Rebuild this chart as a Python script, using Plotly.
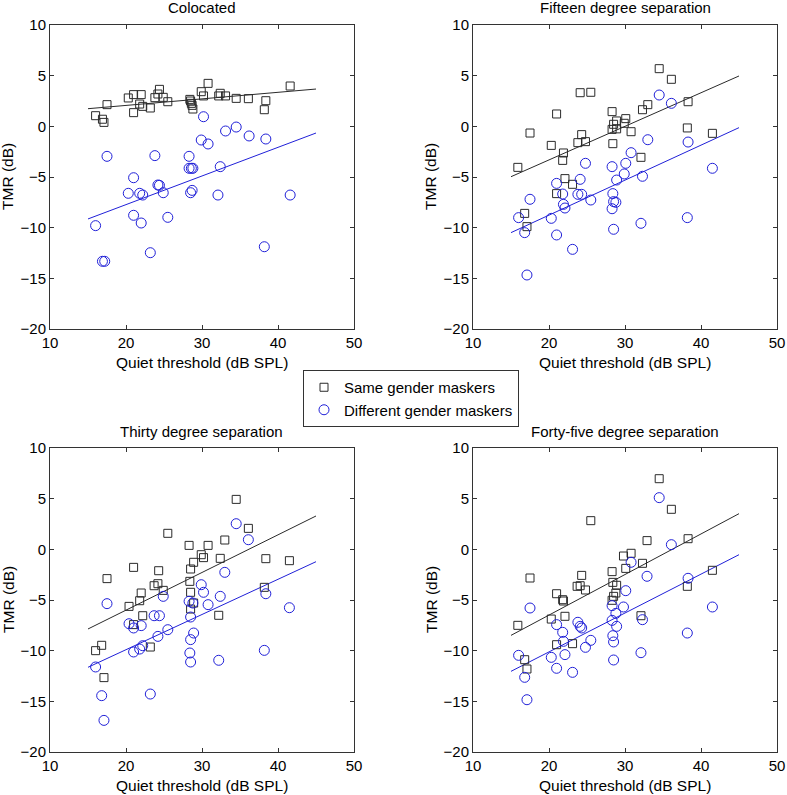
import plotly.graph_objects as go
from plotly.subplots import make_subplots

# quiet thresholds (dB SPL) and TMR (dB)
col_same_x = [16.0, 16.9, 17.1, 17.5, 20.3, 21.0, 21.0, 21.8, 22.0, 22.2, 23.2, 23.8, 24.2, 24.4, 24.9, 25.5,
              28.4, 28.5, 28.6, 28.7, 28.8, 29.9, 30.2, 30.8, 32.2, 32.4, 33.1, 34.5, 36.1, 38.2, 38.4, 41.6]
col_same_y = [1.05, 0.7, 0.39, 2.14, 2.8, 3.13, 1.35, 2.2, 3.13, 1.97, 1.81, 2.83, 3.19, 3.65, 2.86, 2.43,
              2.66, 2.5, 2.27, 2.07, 1.71, 3.42, 3.0, 4.24, 3.0, 3.26, 3.0, 2.76, 2.73, 1.64, 2.53, 3.98]
col_diff_x = [16.0, 16.9, 17.2, 17.5, 20.3, 21.0, 21.0, 21.8, 22.0, 22.2, 23.2, 23.8, 24.2, 24.4, 24.9, 25.5,
              28.3, 28.3, 28.5, 28.6, 28.7, 28.8, 29.9, 30.2, 30.8, 32.1, 32.4, 33.1, 34.5, 36.2, 38.2, 38.4, 41.6]
col_diff_y = [-9.8, -13.32, -13.32, -2.96, -6.61, -5.07, -8.78, -6.61, -9.54, -6.78, -12.47, -2.89, -5.79, -5.82,
              -6.55, -8.98, -2.96, -4.14, -6.55, -4.14, -6.32, -4.14, -1.35, 0.95, -1.74, -6.78, -3.98, -0.46,
              -0.07, -0.95, -11.88, -1.25, -6.78]

f15_same_x = [15.9, 16.8, 17.1, 17.5, 20.3, 21.0, 21.0, 21.8, 21.9, 22.1, 23.1, 23.8, 24.1, 24.3, 24.8, 25.5,
              28.3, 28.3, 28.4, 28.5, 28.9, 28.9, 29.9, 30.1, 30.8, 32.1, 32.3, 33.0, 34.5, 36.1, 38.2, 38.3, 41.5]
f15_same_y = [-4.05, -8.59, -9.9, -0.66, -1.88, 1.22, -6.64, -3.36, -2.63, -5.16, -5.72, -1.61, 3.32, -0.82,
              -1.51, 3.36, 1.45, -0.3, -1.71, 0.2, 0.53, -0.25, 0.3, 0.76, -0.53, -3.06, 1.64, 2.14, 5.69, 4.64,
              -0.16, 2.43, -0.69]
f15_diff_x = [16.0, 16.8, 17.1, 17.5, 20.3, 21.0, 21.0, 21.8, 21.9, 22.1, 23.1, 23.8, 24.1, 24.3, 24.8, 25.5,
              28.3, 28.3, 28.4, 28.5, 28.5, 28.8, 28.9, 29.9, 30.1, 30.8, 32.1, 32.3, 33.0, 34.5, 36.1, 38.2, 38.3,
              41.5]
f15_diff_y = [-9.01, -10.49, -14.67, -7.2, -9.08, -5.63, -10.72, -6.68, -7.7, -8.06, -12.14, -6.71, -5.23, -6.71,
              -3.65, -7.27, -3.98, -8.13, -6.64, -10.16, -7.43, -7.5, -5.3, -4.7, -3.65, -2.6, -9.57, -4.93, -1.32,
              3.09, 2.27, -9.01, -1.55, -4.14]

t30_same_x = [16.0, 16.8, 17.1, 17.5, 20.4, 21.0, 21.0, 21.8, 22.0, 22.2, 23.2, 23.7, 24.2, 24.3, 24.9, 25.5,
              28.3, 28.4, 28.5, 28.5, 28.5, 28.9, 28.9, 29.9, 30.2, 30.8, 32.2, 32.4, 33.0, 34.5, 36.1, 38.2, 38.4,
              41.5]
t30_same_y = [-10.0, -9.47, -12.66, -2.89, -5.63, -1.78, -7.43, -5.07, -4.31, -6.55, -9.64, -3.59, -3.39, -2.11,
              -4.05, 1.58, 0.39, -3.16, -1.94, -4.24, -5.89, -1.28, -5.3, -0.53, -0.82, 0.39, -6.51, -0.89, 0.92,
              4.93, 2.07, -3.75, -0.92, -1.12]
t30_diff_x = [16.0, 16.8, 17.1, 17.5, 20.4, 21.0, 21.0, 21.8, 22.0, 22.2, 23.2, 23.7, 24.2, 24.4, 24.9, 25.5,
              28.3, 28.4, 28.5, 28.5, 28.5, 28.8, 28.9, 29.9, 30.2, 30.8, 32.2, 32.4, 33.0, 34.5, 36.1, 38.2, 38.4,
              41.5]
t30_diff_y = [-11.61, -14.44, -16.88, -5.36, -7.34, -7.76, -10.13, -9.84, -7.53, -9.51, -14.28, -6.55, -8.59,
              -6.55, -4.64, -7.93, -5.13, -10.23, -8.91, -6.68, -11.12, -5.3, -8.26, -3.49, -4.24, -5.46, -10.95,
              -4.64, -2.27, 2.53, 0.95, -9.97, -4.38, -5.76]

f45_same_x = [15.9, 16.8, 17.1, 17.5, 20.3, 21.0, 21.0, 21.8, 21.9, 22.1, 23.1, 23.7, 24.1, 24.3, 24.8, 25.5,
              28.3, 28.3, 28.4, 28.5, 28.8, 28.9, 29.8, 30.1, 30.8, 32.1, 32.3, 32.9, 34.5, 36.1, 38.2, 38.3, 41.5]
f45_same_y = [-7.5, -10.89, -11.81, -2.83, -6.88, -4.38, -9.41, -4.97, -5.1, -6.61, -9.31, -3.65, -3.59, -2.57,
              -4.01, 2.83, -2.2, -5.03, -3.26, -4.64, -4.31, -3.55, -0.66, -1.88, -0.39, -6.55, -1.38, 0.86, 6.97,
              3.95, -3.65, 1.05, -2.07]
f45_diff_x = [16.0, 16.8, 17.1, 17.5, 20.3, 21.0, 21.0, 21.8, 21.9, 22.1, 23.1, 23.8, 24.1, 24.3, 24.8, 25.5,
              28.3, 28.3, 28.4, 28.5, 28.5, 28.8, 28.9, 29.8, 30.1, 30.8, 32.1, 32.3, 32.9, 34.5, 36.1, 38.2, 38.3,
              41.5]
f45_diff_y = [-10.46, -12.63, -14.84, -5.79, -10.66, -7.43, -11.74, -8.19, -9.08, -10.39, -12.14, -7.2, -7.6,
              -7.76, -9.67, -8.98, -5.56, -7.01, -8.52, -9.14, -10.92, -6.32, -7.6, -5.69, -4.08, -1.28, -10.2,
              -6.94, -2.66, 5.1, 0.46, -8.26, -2.86, -5.69]

# regression lines, end values at x = 15 and x = 45
fit_x = [15, 45]
col_fit_same = [1.74, 3.68]
col_fit_diff = [-9.14, -0.66]
f15_fit_same = [-4.97, 4.97]
f15_fit_diff = [-10.49, -0.13]
t30_fit_same = [-7.86, 3.29]
t30_fit_diff = [-11.64, -1.22]
f45_fit_same = [-8.49, 3.52]
f45_fit_diff = [-12.04, -0.53]

titles = ["Colocated", "Fifteen degree separation", "Thirty degree separation", "Forty-five degree separation"]
x_ticks = [10, 20, 30, 40, 50]
y_ticks = [-20, -15, -10, -5, 0, 5, 10]

panels = [
    (col_same_x, col_same_y, col_diff_x, col_diff_y, col_fit_same, col_fit_diff),
    (f15_same_x, f15_same_y, f15_diff_x, f15_diff_y, f15_fit_same, f15_fit_diff),
    (t30_same_x, t30_same_y, t30_diff_x, t30_diff_y, t30_fit_same, t30_fit_diff),
    (f45_same_x, f45_same_y, f45_diff_x, f45_diff_y, f45_fit_same, f45_fit_diff),
]

W, H = 787, 795
BLACK = "#2a2a2a"
BLUE = "#2020d8"
FONT = "Liberation Sans, Arial, sans-serif"

# pixel boxes of the plot areas (left, right, top, bottom)
boxes = [(50, 354, 25, 329), (473, 777, 25, 329), (50, 354, 448, 752), (473, 777, 448, 752)]

fig = make_subplots(rows=2, cols=2)

for i, (sx, sy, dx, dy, fs, fd) in enumerate(panels):
    r, c = i // 2 + 1, i % 2 + 1
    first = i == 0
    fig.add_trace(go.Scatter(x=fit_x, y=fs, mode="lines", line=dict(color=BLACK, width=1),
                             showlegend=False, hoverinfo="skip"), row=r, col=c)
    fig.add_trace(go.Scatter(x=fit_x, y=fd, mode="lines", line=dict(color=BLUE, width=1),
                             showlegend=False, hoverinfo="skip"), row=r, col=c)
    fig.add_trace(go.Scatter(x=sx, y=sy, mode="markers", name="Same gender maskers", showlegend=first,
                             marker=dict(symbol="square-open", size=8, color=BLACK, line=dict(width=1))),
                  row=r, col=c)
    fig.add_trace(go.Scatter(x=dx, y=dy, mode="markers", name="Different gender maskers", showlegend=first,
                             marker=dict(symbol="circle-open", size=10, color=BLUE, line=dict(width=1))),
                  row=r, col=c)

axis_style = dict(showgrid=False, zeroline=False, showline=True, linecolor="#333333", linewidth=1,
                  mirror="ticks", ticks="inside", ticklen=4, tickcolor="#333333", automargin=False,
                  tickfont=dict(family=FONT, size=15, color="black"))

annotations = []
for i, (l, rgt, t, b) in enumerate(boxes):
    xa = "xaxis" if i == 0 else "xaxis%d" % (i + 1)
    ya = "yaxis" if i == 0 else "yaxis%d" % (i + 1)
    fig.layout[xa].update(domain=[l / W, rgt / W], range=[10, 50], tickvals=x_ticks, **axis_style)
    fig.layout[ya].update(domain=[1 - b / H, 1 - t / H], range=[-20, 10], tickvals=y_ticks, **axis_style)
    cx = (l + rgt) / 2
    annotations.append(dict(text=titles[i], x=cx / W, y=1 - (t - 17) / H, xref="paper", yref="paper",
                            showarrow=False, xanchor="center", yanchor="middle",
                            font=dict(family=FONT, size=15, color="black")))
    annotations.append(dict(text="Quiet threshold (dB SPL)", x=cx / W, y=1 - (b + 33) / H, xref="paper",
                            yref="paper", showarrow=False, xanchor="center", yanchor="middle",
                            font=dict(family=FONT, size=15.5, color="black")))
    annotations.append(dict(text="TMR (dB)", x=(l - 42) / W, y=1 - (t + b) / 2 / H, xref="paper",
                            yref="paper", showarrow=False, xanchor="center", yanchor="middle", textangle=-90,
                            font=dict(family=FONT, size=15.5, color="black")))

fig.update_layout(
    width=W, height=H,
    margin=dict(l=0, r=0, t=0, b=0, pad=0),
    paper_bgcolor="white", plot_bgcolor="white",
    font=dict(family=FONT, size=15, color="black"),
    annotations=annotations,
    legend=dict(x=303 / W, y=1 - 370 / H, xanchor="left", yanchor="top",
                bordercolor="#333333", borderwidth=1, bgcolor="white",
                font=dict(family=FONT, size=15), tracegroupgap=0, itemwidth=30),
)

fig.write_html("out.html", config={"displayModeBar": False},
               post_script="document.body.style.margin='0';")
